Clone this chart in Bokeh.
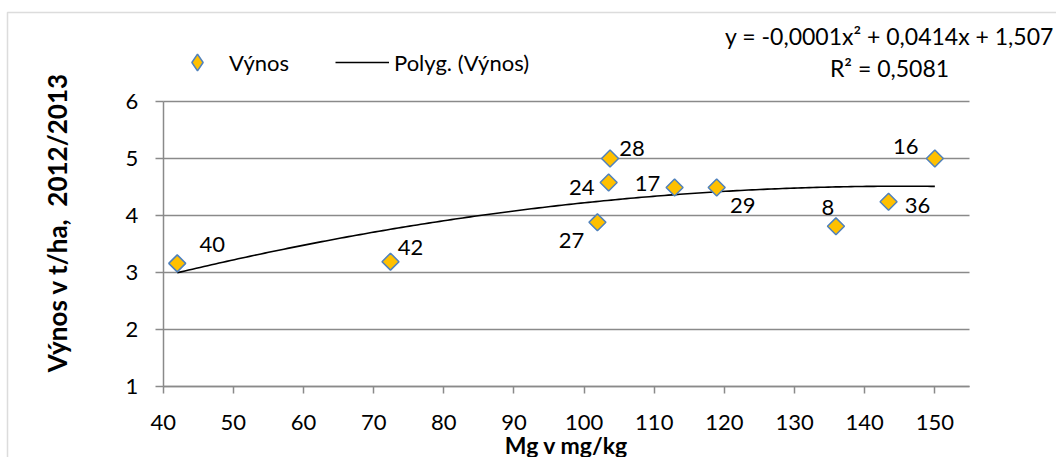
import math
import numpy as np
from bokeh.plotting import figure
from bokeh.models import (ColumnDataSource, FixedTicker, Label, Legend,
                          LegendItem, BoxAnnotation)
from bokeh.core.properties import value
from bokeh.embed import file_html
from bokeh.resources import INLINE

# Mg content of the soil (mg/kg) and yield (t/ha) per plot
mg = [42.0, 72.4, 101.9, 103.5, 103.7, 112.9, 118.9, 135.9, 143.4, 150.0]
yield_t = [3.16, 3.19, 3.88, 4.58, 5.00, 4.49, 4.49, 3.81, 4.24, 5.00]
plot_ids = ["40", "42", "27", "24", "28", "17", "29", "8", "36", "16"]

x_ticks = [40, 50, 60, 70, 80, 90, 100, 110, 120, 130, 140, 150]
y_ticks = [1, 2, 3, 4, 5, 6]
x_axis_max = 155

# pixel offsets of the plot-number labels relative to their marker
label_dx = [35, 20, -26, -27, 22, -27, 26, -8, 29, -29]
label_dy = [-19, -14, 18, 5, -10, -4, 18, -19, 4, -12]

x_title = "Mg v mg/kg"
y_title = "Výnos v t/ha,\u00a0 2012/2013"
equation_text = "y = -0,0001x² + 0,0414x + 1,507"
r2_text = "R² = 0,5081"

FONT = "Lato"
GRAY = "#8a8a8a"
GOLD = "#FFC000"
BLUE = "#4F81BD"
W, H = 1056, 457

# second-order polynomial trend through the points
coef = np.polyfit(mg, yield_t, 2)
trend_x = np.linspace(min(mg), max(mg), 200)
trend_y = np.polyval(coef, trend_x)

src = ColumnDataSource(dict(x=mg, y=yield_t, lab=plot_ids, dx=label_dx, dy=label_dy))
trend = ColumnDataSource(dict(x=trend_x, y=trend_y))

# the plotting frame fills the whole canvas; axes sit at fixed data positions
px_left, px_per_x = 162.7, 7.015     # x = 40 at 162.7 px, 70.15 px per 10
px_bottom, px_per_y = 386.0, 57.0    # y = 1 at 386 px, 57 px per unit
x0 = x_ticks[0] - px_left / px_per_x
x1 = x_ticks[0] + (W - px_left) / px_per_x
y0 = y_ticks[0] - (H - px_bottom) / px_per_y
y1 = y_ticks[0] + px_bottom / px_per_y

p = figure(width=W, height=H, x_range=(x0, x1), y_range=(y0, y1),
           output_backend="svg", toolbar_location=None,
           min_border_left=0, min_border_right=0,
           min_border_top=0, min_border_bottom=0)
p.outline_line_color = None
p.background_fill_color = "white"
p.border_fill_color = "white"

# axes
p.xaxis.ticker = FixedTicker(ticks=x_ticks)
p.yaxis.ticker = FixedTicker(ticks=y_ticks)
p.xaxis.fixed_location = y_ticks[0]
p.yaxis.fixed_location = x_ticks[0]
p.xaxis.bounds = (x_ticks[0], x_axis_max)
p.yaxis.bounds = (y_ticks[0], y_ticks[-1])
for ax in (p.xaxis[0], p.yaxis[0]):
    ax.axis_line_color = GRAY
    ax.axis_line_width = 1.5
    ax.major_tick_line_color = GRAY
    ax.major_tick_line_width = 1.5
    ax.major_tick_in = 0
    ax.minor_tick_line_color = None
    ax.major_label_text_font = FONT
    ax.major_label_text_font_size = "22px"
    ax.major_label_text_color = "black"
p.yaxis.major_tick_out = 8
p.yaxis.major_label_standoff = 17
p.xaxis.major_tick_out = 7
p.xaxis.major_label_standoff = 21

p.xgrid.grid_line_color = None
p.ygrid.grid_line_color = GRAY
p.ygrid.grid_line_width = 1.5
p.ygrid.cross_bounds = (x_ticks[0], x_axis_max)

# chart border
p.add_layout(BoxAnnotation(left=7, right=W + 50, top=H - 12, bottom=-50,
                           left_units="screen", right_units="screen",
                           top_units="screen", bottom_units="screen",
                           fill_color=None, line_color=GRAY, line_width=1.5))

line_r = p.line("x", "y", source=trend, line_color="black", line_width=1.6)
pts_r = p.scatter("x", "y", source=src, marker="square", size=12, angle=math.pi / 4,
                  fill_color=GOLD, line_color=BLUE, line_width=1.5)
# legend key for the points (not drawn in the plot itself)
key_r = p.scatter("x", "y", source=src, marker="diamond", size=12, visible=False,
                  fill_color=GOLD, line_color=BLUE, line_width=1.5)

p.text("x", "y", text="lab", source=src, x_offset="dx", y_offset="dy",
       text_align="center", text_baseline="middle",
       text_font=value(FONT), text_font_size="22px", text_color="black")

# axis titles
p.add_layout(Label(x=56, y=H - 222, x_units="screen", y_units="screen",
                   text=y_title, angle=math.pi / 2,
                   text_align="center", text_baseline="middle",
                   text_font=FONT, text_font_size="26px", text_font_style="bold",
                   text_color="black"))
p.add_layout(Label(x=566, y=H - 444, x_units="screen", y_units="screen",
                   text=x_title, text_align="center", text_baseline="middle",
                   text_font=FONT, text_font_size="23px", text_font_style="bold",
                   text_color="black"))

# trend equation
p.add_layout(Label(x=889, y=H - 35, x_units="screen", y_units="screen",
                   text=equation_text, text_align="center", text_baseline="middle",
                   text_font=FONT, text_font_size="23px", text_color="black"))
p.add_layout(Label(x=889, y=H - 67, x_units="screen", y_units="screen",
                   text=r2_text, text_align="center", text_baseline="middle",
                   text_font=FONT, text_font_size="23px", text_color="black"))

legend = Legend(items=[LegendItem(label="Výnos", renderers=[key_r]),
                       LegendItem(label="Polyg. (Výnos)", renderers=[line_r])],
                orientation="horizontal", location=(170, H - 83),
                glyph_width=54, glyph_height=42, label_standoff=5, spacing=46,
                padding=0, margin=0, border_line_color=None,
                background_fill_alpha=0, inactive_fill_alpha=0,
                label_text_font=FONT, label_text_font_size="22px",
                label_text_color="black")
p.add_layout(legend)

open("out.html", "w").write(file_html(p, INLINE))
